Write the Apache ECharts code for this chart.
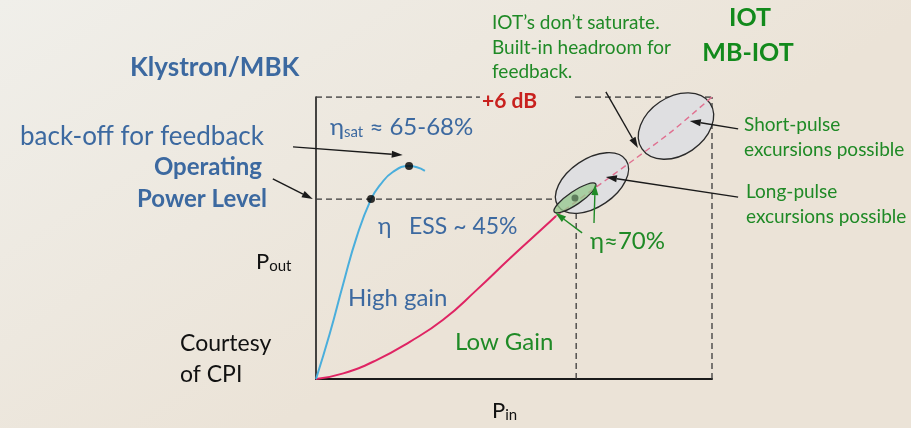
<!DOCTYPE html>
<html><head><meta charset="utf-8">
<script src="https://cdn.jsdelivr.net/npm/echarts@6/dist/echarts.min.js"></script>
<style>html,body{margin:0;padding:0;}#c{width:911px;height:428px;}</style>
</head><body><div id="c"></div>
<script>
// ---- data (x: P_in, y: P_out, both 0..100 of the plotted frame) ----
var klystronCurve = [[0,0],[3.5,16.2],[6.9,33.9],[10.3,50.5],[13.9,63.8],[16.2,68.8],[19.4,73.4],[23.5,75.5],[27.5,73.8]];
var klystronPoints = [[13.9,63.8],[23.5,75.5]];
var iotCurve = [[0,0],[6.9,2.0],[15.3,6.7],[23.7,13.2],[32.1,21.0],[40.6,31.6],[49.0,42.8],[57.4,53.6],[60.6,57.8]];
var iotExtension = [[60.6,57.8],[70.0,67.3],[80.5,78.0],[90.0,88.0],[100,100]];
var iotPoint = [[65.4,64.2]];
var topLevelLeft = [[0,100],[41.4,100]];
var topLevelRight = [[65.4,100],[100,100]];
var operatingLevel = [[0,63.8],[61.6,63.8]];
var longPulsePin = [[65.7,0],[65.7,59.9]];
var maxPin = [[100,0],[100,100]];
// regions: [x, y] centre
var longPulseRegion = [69.7,69.5];
var shortPulseRegion = [90.9,89.7];
var greenRegion = [65.4,64.2];
// arrows [x1,y1,x2,y2] (tail -> head)
var blackArrows = [[-5.8,82.3,21.9,79.4],[-10.9,71.0,-0.8,63.8],[73.2,101.8,81.3,81.9],[106.6,88.7,94.4,91.5],[106.6,64.5,73.2,71.6]];
var greenArrows = [[67.2,51.8,60.4,59.0],[70.2,55.3,70.5,69.1]];
var xRange = [0,100];
var yRange = [0,100];

var chart = echarts.init(document.getElementById('c'), null, {renderer:'canvas'});
var FONT = 'Lato';
var BLUE = '#3c69a0', GREEN = '#1f8a26', DGREEN = '#128a1c';

function arrowRender(color){
  return function(params, api){
    var p1 = api.coord([api.value(0), api.value(1)]);
    var p2 = api.coord([api.value(2), api.value(3)]);
    var dx = p2[0]-p1[0], dy = p2[1]-p1[1];
    var L = Math.sqrt(dx*dx+dy*dy); var ux = dx/L, uy = dy/L;
    var hl = 11, hw = 3.5;
    var bx = p2[0]-ux*hl, by = p2[1]-uy*hl;
    return {type:'group', children:[
      {type:'line', shape:{x1:p1[0],y1:p1[1],x2:bx,y2:by}, style:{stroke:color,lineWidth:1.4}},
      {type:'polygon', shape:{points:[[p2[0],p2[1]],[bx-uy*hw,by+ux*hw],[bx+uy*hw,by-ux*hw]]}, style:{fill:color}}
    ]};
  };
}
function ellipseRender(rx, ry, fill, stroke){
  return function(params, api){
    var p = api.coord([api.value(0), api.value(1)]);
    return {type:'ellipse', x:p[0], y:p[1], rotation: 34*Math.PI/180,
      shape:{cx:0,cy:0,rx:rx,ry:ry}, style:{fill:fill, stroke:stroke, lineWidth:1.3}};
  };
}
function dashed(data){
  return {type:'line', data:data, showSymbol:false, silent:true,
    lineStyle:{color:'#3a3a3a', width:1.3, type:[6,4]}, z:2};
}
function txt(x,y,text,size,color,weight,align){
  return {type:'text', x:x, y:y, style:{text:text, font:(weight||'normal')+' '+size+'px '+FONT,
    fill:color, textAlign:align||'left', textVerticalAlign:'middle'}};
}

var option = {
  backgroundColor: {type:'linear', x:0, y:0, x2:0.3, y2:1, colorStops:[{offset:0,color:'#f0efea'},{offset:1,color:'#ebe3d7'}]},
  animation:false,
  grid:{left:316, top:97, width:396, height:282, containLabel:false},
  xAxis:{type:'value', min:xRange[0], max:xRange[1], axisLine:{show:true, onZero:false, lineStyle:{color:'#1a1a1a', width:2}},
    axisTick:{show:false}, axisLabel:{show:false}, splitLine:{show:false}},
  yAxis:{type:'value', min:yRange[0], max:yRange[1], axisLine:{show:true, onZero:false, lineStyle:{color:'#1a1a1a', width:1.6}},
    axisTick:{show:false}, axisLabel:{show:false}, splitLine:{show:false}},
  series:[
    dashed(topLevelLeft), dashed(topLevelRight), dashed(operatingLevel), dashed(longPulsePin), dashed(maxPin),
    {type:'custom', renderItem:ellipseRender(41,24,'#dfdfe1','#2a2a2a'), data:[longPulseRegion], z:3, clip:false},
    {type:'custom', renderItem:ellipseRender(41,29,'#dfdfe1','#2a2a2a'), data:[shortPulseRegion], z:3, clip:false},
    {type:'line', data:iotExtension, smooth:0.3, showSymbol:false, lineStyle:{color:'#e07090', width:1.4, type:[6,4]}, z:4},
    {type:'line', data:iotCurve, smooth:true, showSymbol:false, lineStyle:{color:'#df2463', width:2}, z:5},
    {type:'custom', renderItem:ellipseRender(25,6.5,'rgba(150,200,140,0.75)','#2a2a2a'), data:[greenRegion], z:6, clip:false},
    {type:'scatter', data:iotPoint, symbolSize:7, itemStyle:{color:'#4c6a4c'}, z:7},
    {type:'line', data:klystronCurve, smooth:true, showSymbol:false, lineStyle:{color:'#4aaedc', width:2}, z:5},
    {type:'scatter', data:klystronPoints, symbolSize:8, itemStyle:{color:'#000'}, z:7},
    {type:'custom', renderItem:arrowRender('#1a1a1a'), data:blackArrows, z:8, clip:false},
    {type:'custom', renderItem:arrowRender('#1f8a26'), data:greenArrows, z:8, clip:false}
  ],
  graphic:[
    txt(130,68,'Klystron/MBK',26,BLUE,'bold'),
    txt(20,137,'back-off for feedback',26,BLUE),
    txt(262,167,'Operating',24,BLUE,'bold','right'),
    txt(267,199,'Power Level',24,BLUE,'bold','right'),
    {type:'text', x:330, y:127, style:{text:'{e|η}{s|sat}{e| ≈ 65-68%}', textVerticalAlign:'middle',
      rich:{e:{font:'normal 24px '+FONT, fill:BLUE}, s:{font:'normal 15px '+FONT, fill:BLUE, padding:[10,0,0,0]}}}},
    txt(378,227,'η   ESS ~ 45%',23,BLUE),
    txt(348,298,'High gain',24,BLUE),
    txt(455,342,'Low Gain',24,GREEN),
    txt(590,241,'η≈70%',24,GREEN),
    txt(482,101,'+6 dB',21,'#c8211e','bold'),
    txt(492,23,'IOT’s don’t saturate.',19,GREEN),
    txt(492,48,'Built-in headroom for',19,GREEN),
    txt(492,72,'feedback.',19,GREEN),
    txt(750,18,'IOT',25,DGREEN,'bold','center'),
    txt(748,53,'MB-IOT',25,DGREEN,'bold','center'),
    txt(744,125,'Short-pulse',19,GREEN),
    txt(744,150,'excursions possible',19,GREEN),
    txt(746,192,'Long-pulse',19,GREEN),
    txt(746,217,'excursions possible',19,GREEN),
    txt(180,344,'Courtesy',23,'#111'),
    txt(180,375,'of CPI',23,'#111'),
    {type:'text', x:256, y:262, style:{text:'{p|P}{s|out}', textVerticalAlign:'middle',
      rich:{p:{font:'normal 22px '+FONT, fill:'#111'}, s:{font:'normal 15px '+FONT, fill:'#111', padding:[9,0,0,0]}}}},
    {type:'text', x:492, y:411, style:{text:'{p|P}{s|in}', textVerticalAlign:'middle',
      rich:{p:{font:'normal 22px '+FONT, fill:'#111'}, s:{font:'normal 15px '+FONT, fill:'#111', padding:[9,0,0,0]}}}}
  ]
};
chart.setOption(option);
</script></body></html>
